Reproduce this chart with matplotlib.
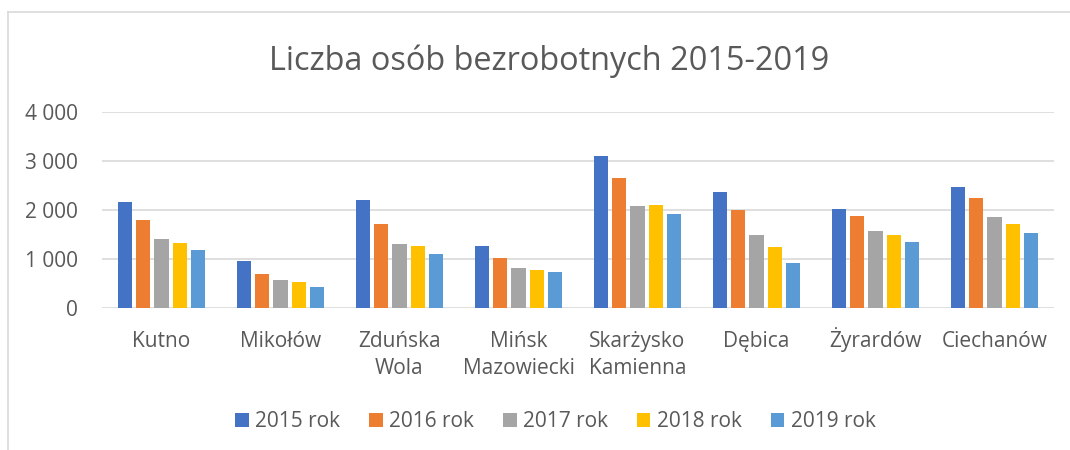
import numpy as np
import matplotlib.pyplot as plt
from matplotlib.lines import Line2D
from matplotlib.ticker import FuncFormatter

plt.rcParams['font.family'] = ['Open Sans', 'DejaVu Sans']

cities = ['Kutno', 'Mikołów', 'Zduńska\nWola', 'Mińsk\nMazowiecki', 'Skarżysko\nKamienna',
          'Dębica', 'Żyrardów', 'Ciechanów']
years = ['2015 rok', '2016 rok', '2017 rok', '2018 rok', '2019 rok']
y2015 = [2150, 955, 2200, 1255, 3090, 2355, 2015, 2475]
y2016 = [1790, 685, 1720, 1010, 2640, 1990, 1870, 2235]
y2017 = [1395, 560, 1295, 805, 2075, 1480, 1565, 1845]
y2018 = [1330, 525, 1255, 765, 2090, 1235, 1480, 1700]
y2019 = [1170, 430, 1095, 735, 1910, 905, 1335, 1525]
colors = ['#4472C4', '#ED7D31', '#A5A5A5', '#FFC000', '#5B9BD5']

fig = plt.figure(figsize=(10.7, 4.5), dpi=100)
ax = fig.add_axes([0.0953, 0.316, 0.8897, 0.4356])

x = np.arange(len(cities))
step = 0.154
width = 0.122
for i, (vals, c, lab) in enumerate(zip([y2015, y2016, y2017, y2018, y2019], colors, years)):
    ax.bar(x + (i - 2) * step, vals, width, color=c, label=lab, zorder=3)

ax.set_xlim(-0.5, len(cities) - 0.5)
ax.set_ylim(0, 4000)
ax.set_yticks([0, 1000, 2000, 3000, 4000])
ax.yaxis.set_major_formatter(FuncFormatter(lambda v, p: f'{int(v):,}'.replace(',', ' ')))
ax.grid(axis='y', color='#D9D9D9', linewidth=1.2, zorder=0)
for s in ax.spines.values():
    s.set_visible(False)
ax.tick_params(length=0, labelsize=15, labelcolor='#595959')
ax.tick_params(axis='y', pad=17)
ax.set_xticks(x)
ax.set_xticklabels([])

# category labels drawn line by line so every line sits on the same baseline
for xi, name in zip(x, cities):
    for j, line in enumerate(name.split('\n')):
        ax.annotate(line, xy=(xi, 0), xycoords=('data', 'axes fraction'),
                    xytext=(0, -28 - j * 19.5), textcoords='offset points',
                    ha='center', va='baseline', fontsize=15, color='#595959')

fig.text(0.513, 0.865, 'Liczba osób bezrobotnych 2015-2019', ha='center', va='center',
         fontsize=23.4, color='#595959')

fig.legend(loc='center', bbox_to_anchor=(0.519, 0.063), ncol=5, frameon=False,
           fontsize=15, labelcolor='#595959', handlelength=0.65, handleheight=0.65,
           handletextpad=0.3, columnspacing=1.4)

fig.add_artist(Line2D([0.0075, 1.0], [0.973, 0.973], color='#D9D9D9', lw=1.2))
fig.add_artist(Line2D([0.0075, 0.0075], [0.0, 0.973], color='#D9D9D9', lw=1.2))

fig.savefig('out.png', dpi=100)
